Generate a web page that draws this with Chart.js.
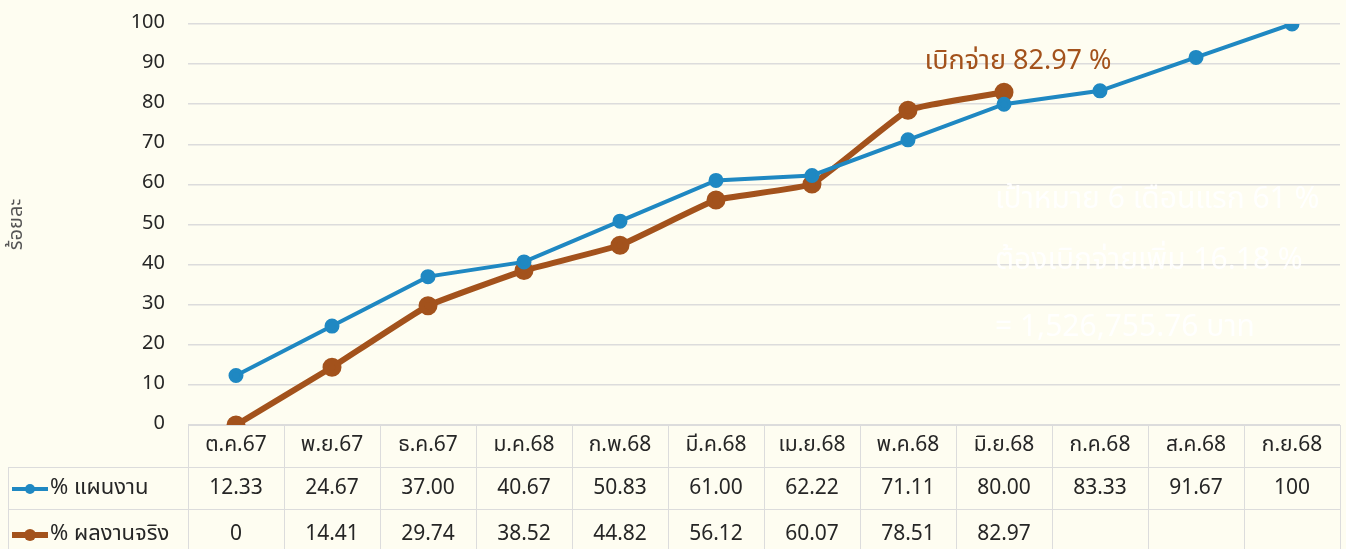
<!DOCTYPE html>
<html>
<head>
<meta charset="utf-8">
<script src="https://cdn.jsdelivr.net/npm/chart.js@4.4.1/dist/chart.umd.min.js"></script>
<style>
  html, body { margin: 0; padding: 0; background: #fefdf1; overflow: hidden; }
  #wrap { width: 1346px; height: 549px; }
</style>
</head>
<body>
<div id="wrap"><canvas id="progresschart"></canvas></div>
<script>
const months = ["ต.ค.67", "พ.ย.67", "ธ.ค.67", "ม.ค.68", "ก.พ.68", "มี.ค.68", "เม.ย.68", "พ.ค.68", "มิ.ย.68", "ก.ค.68", "ส.ค.68", "ก.ย.68"];
const planValues = [12.33, 24.67, 37.00, 40.67, 50.83, 61.00, 62.22, 71.11, 80.00, 83.33, 91.67, 100];
const actualValues = [0, 14.41, 29.74, 38.52, 44.82, 56.12, 60.07, 78.51, 82.97, null, null, null];
const yTicks = [0, 10, 20, 30, 40, 50, 60, 70, 80, 90, 100];

const thaiFont = "Tahoma, 'Leelawadee UI', 'Noto Sans Thai', 'Noto Sans', sans-serif";
const blue = "#1f88c2";
const brown = "#a3521c";
const gridColor = "#dcdcdc";

function fmt(v) {
    if (v === null) return "";
    return (v === 0 || v === 100) ? String(v) : v.toFixed(2);
}

// cream background
const bgPlugin = {
    id: "bg",
    beforeDraw(chart) {
        const ctx = chart.ctx;
        ctx.save();
        ctx.fillStyle = "#fefdf1";
        ctx.fillRect(0, 0, chart.width, chart.height);
        ctx.restore();
    }
};

// data table under the plot + notes
const tablePlugin = {
    id: "datatable",
    afterDraw(chart) {
        const ctx = chart.ctx;
        const area = chart.chartArea;
        const x = chart.scales.x;
        const y = chart.scales.y;
        const colW = area.width / months.length;
        const rowTop = [area.bottom, area.bottom + 42, area.bottom + 84];
        const rowH = 42;
        const bottom = chart.height + 2;
        const leftEdge = 8;

        ctx.save();
        ctx.strokeStyle = gridColor;
        ctx.lineWidth = 1;

        // horizontal lines
        ctx.beginPath();
        ctx.moveTo(area.left, rowTop[0] + 0.5);
        ctx.lineTo(area.right, rowTop[0] + 0.5);
        ctx.moveTo(leftEdge, rowTop[1] + 0.5);
        ctx.lineTo(area.right, rowTop[1] + 0.5);
        ctx.moveTo(leftEdge, rowTop[2] + 0.5);
        ctx.lineTo(area.right, rowTop[2] + 0.5);
        // vertical lines
        for (let i = 0; i <= months.length; i++) {
            const px = Math.round(area.left + i * colW) + 0.5;
            ctx.moveTo(px, rowTop[0]);
            ctx.lineTo(px, bottom);
        }
        ctx.moveTo(leftEdge + 0.5, rowTop[1]);
        ctx.lineTo(leftEdge + 0.5, bottom);
        ctx.stroke();

        // cell text
        ctx.fillStyle = "#262626";
        ctx.font = "21px " + thaiFont;
        ctx.textAlign = "center";
        ctx.textBaseline = "middle";
        months.forEach((m, i) => {
            const cx = x.getPixelForValue(i);
            ctx.fillText(m, cx, rowTop[0] + rowH / 2 + 1);
            ctx.fillText(fmt(planValues[i]), cx, rowTop[1] + rowH / 2 + 2);
            ctx.fillText(fmt(actualValues[i]), cx, rowTop[2] + rowH / 2 + 6);
        });

        // legend keys in the left column
        const keys = [
            { label: "% แผนงาน", color: blue, width: 4, r: 5, cy: rowTop[1] + rowH / 2 + 1 },
            { label: "% ผลงานจริง", color: brown, width: 6, r: 6, cy: rowTop[2] + rowH / 2 + 5 }
        ];
        keys.forEach(k => {
            ctx.strokeStyle = k.color;
            ctx.lineWidth = k.width;
            ctx.beginPath();
            ctx.moveTo(12, k.cy);
            ctx.lineTo(48, k.cy);
            ctx.stroke();
            ctx.fillStyle = k.color;
            ctx.beginPath();
            ctx.arc(30, k.cy, k.r, 0, Math.PI * 2);
            ctx.fill();
            ctx.fillStyle = "#262626";
            ctx.textAlign = "left";
            ctx.font = "22px " + thaiFont;
            ctx.fillText(k.label, 50, k.cy + 1);
        });

        // disbursement callout
        const lastIdx = 8;
        ctx.fillStyle = brown;
        ctx.font = "27px " + thaiFont;
        ctx.textAlign = "center";
        ctx.fillText("เบิกจ่าย " + actualValues[lastIdx] + " %", x.getPixelForValue(lastIdx) + 14, y.getPixelForValue(actualValues[lastIdx]) - 29);

        // faint white notes
        ctx.fillStyle = "rgba(255,255,255,0.9)";
        ctx.font = "30px " + thaiFont;
        ctx.textAlign = "left";
        ctx.fillText("เป้าหมาย 6 เดือนแรก 61 %", 995, 202);
        ctx.fillText("ต้องเบิกจ่ายเพิ่ม 16.18 %", 995, 263);
        ctx.fillText("= 1,526,755.76 บาท", 995, 330);
        ctx.restore();
    }
};

new Chart(document.getElementById("progresschart"), {
    type: "line",
    data: {
        labels: months,
        datasets: [
            {
                label: "% แผนงาน",
                data: planValues,
                borderColor: blue,
                backgroundColor: blue,
                borderWidth: 4,
                pointRadius: 5.5,
                pointHoverRadius: 5.5,
                tension: 0
            },
            {
                label: "% ผลงานจริง",
                data: actualValues,
                borderColor: brown,
                backgroundColor: brown,
                borderWidth: 6,
                pointRadius: 6.5,
                pointHoverRadius: 6.5,
                tension: 0.1
            }
        ]
    },
    options: {
        responsive: true,
        maintainAspectRatio: false,
        animation: false,
        layout: {
            autoPadding: false,
            padding: { left: 0, right: 6, top: 24, bottom: 124 }
        },
        plugins: {
            legend: { display: false },
            tooltip: { enabled: false }
        },
        scales: {
            x: {
                display: false,
                offset: true
            },
            y: {
                min: 0,
                max: 100,
                afterFit(scale) { scale.width = 188; },
                afterBuildTicks(scale) { scale.ticks = yTicks.map(v => ({ value: v })); },
                border: { display: false },
                grid: { color: gridColor, lineWidth: 1.5, drawTicks: true, tickLength: 20, tickColor: "rgba(0,0,0,0)" },
                ticks: {
                    padding: 3,
                    color: "#262626",
                    font: { size: 20, family: thaiFont }
                },
                title: {
                    display: true,
                    text: "ร้อยละ",
                    color: "#555555",
                    font: { size: 20, family: thaiFont },
                    padding: { top: 6, bottom: 0 }
                }
            }
        }
    },
    plugins: [bgPlugin, tablePlugin]
});
</script>
</body>
</html>
